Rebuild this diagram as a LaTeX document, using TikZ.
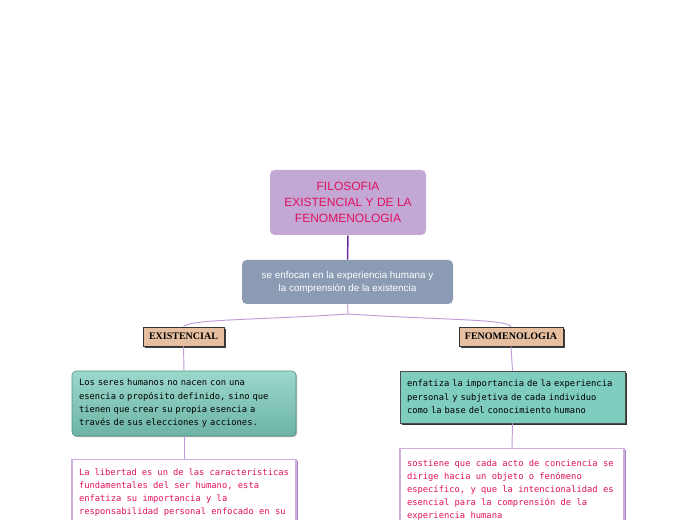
\documentclass[tikz,border=0pt]{standalone}
\usepackage{fontspec}
\setmainfont{Liberation Sans}
\newfontfamily\monof{DejaVu Sans Mono}
\newfontfamily\serifb{Liberation Serif}
\usetikzlibrary{shadows}
\definecolor{titlefill}{HTML}{C3A8D5}
\definecolor{crimson}{HTML}{E0115F}
\definecolor{subfill}{HTML}{8B9BB4}
\definecolor{tan}{HTML}{E6BFA0}
\definecolor{gtop}{HTML}{9BD8CC}
\definecolor{gbot}{HTML}{6CB4A4}
\definecolor{gright}{HTML}{7ECDBF}
\definecolor{pinkedge}{HTML}{CDB0DD}
\definecolor{pinkshadow}{HTML}{A67FC5}
\definecolor{darkpurple}{HTML}{6B2E9E}
\definecolor{lightpurple}{HTML}{BE9AD6}
\tikzset{
  titlebox/.style={fill=titlefill, rounded corners=3.5pt, minimum width=117pt, minimum height=48.75pt,
    align=center, text=crimson, font=\fontsize{9}{12}\selectfont, inner sep=0pt},
  subbox/.style={fill=subfill, rounded corners=3.5pt, minimum width=158.25pt, minimum height=33pt,
    align=center, text=white, font=\fontsize{7.4}{9.75}\selectfont, inner sep=0pt},
  tagbox/.style={fill=tan, draw=black!80, line width=0.5pt, minimum height=14.25pt, inner sep=0pt,
    font=\serifb\bfseries\fontsize{7.5}{8}\selectfont,
    drop shadow={shadow xshift=1.3pt, shadow yshift=-1.3pt, opacity=1, fill=black!75}},
  greenL/.style={top color=gtop, bottom color=gbot, draw=gbot!80!black, line width=0.4pt,
    rounded corners=3pt, minimum width=168pt, minimum height=48.75pt, inner xsep=5.25pt, inner ysep=0pt,
    text width=157.5pt, align=left, font=\monof\fontsize{6.6}{10}\selectfont,
    drop shadow={shadow xshift=0.8pt, shadow yshift=-0.8pt, opacity=0.3, fill=black}},
  greenR/.style={fill=gright, draw=black!70, line width=0.5pt,
    minimum width=168.75pt, minimum height=39pt, inner xsep=5.25pt, inner ysep=0pt,
    text width=158.25pt, align=left, font=\monof\fontsize{6.6}{10}\selectfont,
    drop shadow={shadow xshift=1.5pt, shadow yshift=-1.5pt, opacity=1, fill=black!80}},
  pinkbox/.style={fill=white, draw=pinkedge, line width=0.8pt, inner xsep=5.25pt, inner ysep=0pt,
    text=crimson, align=left, font=\monof\fontsize{6.6}{9.75}\selectfont,
    drop shadow={shadow xshift=1.5pt, shadow yshift=-1.2pt, opacity=1, fill=pinkshadow}},
  mainlink/.style={draw=darkpurple, line width=1.1pt},
  link/.style={draw=lightpurple, line width=0.7pt},
}
\begin{document}
\begin{tikzpicture}[x=0.75pt, y=-0.75pt]
\useasboundingbox (0,0) rectangle (696,520);
\clip (0,0) rectangle (696,520);
\node[titlebox] (title) at (348,202.5) {FILOSOFIA\\EXISTENCIAL Y DE LA\\FENOMENOLOGIA};
\node[subbox] (sub) at (347.5,282) {se enfocan en la experiencia humana y\\la comprensión de la existencia};
\node[tagbox, minimum width=60.75pt] (exist) at (183.5,336.5) {EXISTENCIAL};
\node[tagbox, minimum width=78pt] (fenom) at (511,336.5) {FENOMENOLOGIA};
\node[greenL] (gl) at (184,403.5) {Los seres humanos no nacen con una\\esencia o propósito definido, sino que\\tienen que crear su propia esencia a\\través de sus elecciones y acciones.};
\node[greenR] (gr) at (512.5,397) {enfatiza la importancia de la experiencia\\personal y subjetiva de cada individuo\\como la base del conocimiento humano};
\node[pinkbox, anchor=north] (pl) at (184,459) {\parbox[c][75pt][t]{157.5pt}{\vspace{7pt}La libertad es un de las caracteristicas\\fundamentales del ser humano, esta\\enfatiza su importancia y la\\responsabilidad personal enfocado en su}};
\node[pinkbox, anchor=north] (pr) at (512,448) {\parbox[c][80pt][t]{157.5pt}{\vspace{8.6pt}sostiene que cada acto de conciencia se\\dirige hacia un objeto o fenómeno\\específico, y que la intencionalidad es\\esencial para la comprensión de la\\experiencia humana}};
\coordinate (j) at (348,314);
\draw[mainlink] (title.south) -- (sub.north);
\draw[link] (sub.south) -- (j);
\draw[link] (j) .. controls (260,320) and (190,319) .. (exist.north);
\draw[link] (j) .. controls (440,320) and (508,319) .. (fenom.north);
\draw[link] (exist.south) -- (gl.north);
\draw[link] (gl.south) -- (pl.north);
\draw[link] (fenom.south) -- (gr.north);
\draw[link] (gr.south) -- (pr.north);
\end{tikzpicture}
\end{document}
